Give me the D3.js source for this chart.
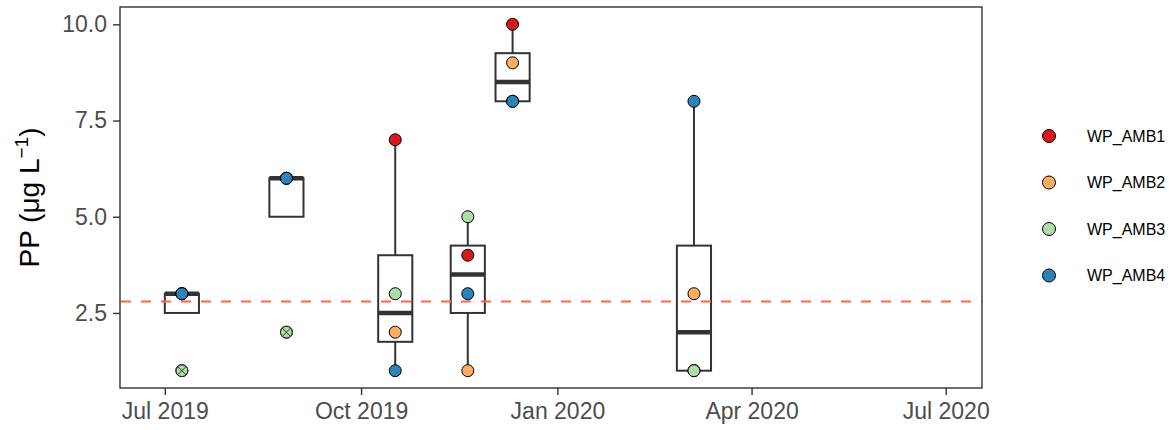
<!DOCTYPE html>
<html>
<head>
<meta charset="utf-8">
<script src="https://cdn.jsdelivr.net/npm/d3@7"></script>
<style>
  html, body { margin: 0; padding: 0; background: #fff; }
  svg { display: block; font-family: "Liberation Sans", Arial, sans-serif; }
</style>
</head>
<body>
<svg id="chart" width="1173" height="430"></svg>
<script>
// Sampling dates and PP concentrations per station
const sampleDates = ["2019-07-09", "2019-08-27", "2019-10-17", "2019-11-20", "2019-12-11", "2020-03-05"];
const stations = ["WP_AMB1", "WP_AMB2", "WP_AMB3", "WP_AMB4"];
const amb1 = [3, 6, 7, 4, 10, 1];
const amb2 = [3, 6, 2, 1, 9, 3];
const amb3 = [1, 2, 3, 5, 8, 1];
const amb4 = [3, 6, 1, 3, 8, 8];
const stationColors = ["#d7191c", "#fdae61", "#abdda4", "#2b83ba"];
const yTicks = [2.5, 5.0, 7.5, 10.0];
const xTickDates = ["2019-07-01", "2019-10-01", "2020-01-01", "2020-04-01", "2020-07-01"];
const thresholdValue = 2.8;

const parse = d3.utcParse("%Y-%m-%d");
const seriesValues = [amb1, amb2, amb3, amb4];

const svg = d3.select("#chart");
const panel = { left: 120, right: 982, top: 7, bottom: 388 };

const x = d3.scaleUtc()
  .domain([parse("2019-06-10"), parse("2020-07-18")])
  .range([panel.left, panel.right]);
const y = d3.scaleLinear()
  .domain([0.55, 10.45])
  .range([panel.bottom, panel.top]);

const color = d3.scaleOrdinal().domain(stations).range(stationColors);

// Box statistics (R type-7 quantiles, 1.5 * IQR whiskers)
const groups = sampleDates.map((ds, i) => {
  const vals = seriesValues.map(s => s[i]).sort(d3.ascending);
  const q1 = d3.quantile(vals, 0.25);
  const med = d3.quantile(vals, 0.5);
  const q3 = d3.quantile(vals, 0.75);
  const iqr = q3 - q1;
  const lo = q1 - 1.5 * iqr, hi = q3 + 1.5 * iqr;
  const inside = vals.filter(v => v >= lo && v <= hi);
  return {
    date: parse(ds), q1, med, q3,
    wLow: d3.min(inside), wHigh: d3.max(inside),
    outliers: vals.filter(v => v < lo || v > hi)
  };
});

const points = [];
stations.forEach((st, si) => {
  sampleDates.forEach((ds, i) => points.push({ station: st, date: parse(ds), value: seriesValues[si][i] }));
});

// Box half-width in days
const halfDays = 8;
const boxX0 = d => x(d3.utcDay.offset(d.date, -halfDays));
const boxX1 = d => x(d3.utcDay.offset(d.date, halfDays));

const dark = "#333333";

// Whiskers
const gBox = svg.append("g");
gBox.selectAll(".whU").data(groups).join("line")
  .attr("x1", d => x(d.date)).attr("x2", d => x(d.date))
  .attr("y1", d => y(d.q3)).attr("y2", d => y(Math.max(d.wHigh, d.q3)))
  .attr("stroke", dark).attr("stroke-width", 2);
gBox.selectAll(".whL").data(groups).join("line")
  .attr("x1", d => x(d.date)).attr("x2", d => x(d.date))
  .attr("y1", d => y(d.q1)).attr("y2", d => y(Math.min(d.wLow, d.q1)))
  .attr("stroke", dark).attr("stroke-width", 2);
// Boxes
gBox.selectAll("rect").data(groups).join("rect")
  .attr("x", boxX0).attr("width", d => boxX1(d) - boxX0(d))
  .attr("y", d => y(d.q3)).attr("height", d => y(d.q1) - y(d.q3))
  .attr("fill", "none").attr("stroke", dark).attr("stroke-width", 2);
// Medians
gBox.selectAll(".med").data(groups).join("line")
  .attr("x1", boxX0).attr("x2", boxX1)
  .attr("y1", d => y(d.med)).attr("y2", d => y(d.med))
  .attr("stroke", dark).attr("stroke-width", 4.5);

// Threshold line
svg.append("line")
  .attr("x1", panel.left).attr("x2", panel.right)
  .attr("y1", y(thresholdValue)).attr("y2", y(thresholdValue))
  .attr("stroke", "#ff6347").attr("stroke-width", 2)
  .attr("stroke-dasharray", "10,10").attr("stroke-dashoffset", -1);

// Station points
svg.append("g").selectAll("circle").data(points).join("circle")
  .attr("cx", d => x(d.date)).attr("cy", d => y(d.value)).attr("r", 6)
  .attr("fill", d => color(d.station)).attr("stroke", "#000").attr("stroke-width", 1);

// Outlier markers (circle with cross)
const outs = [];
groups.forEach(g => g.outliers.forEach(v => outs.push({ date: g.date, value: v })));
const gOut = svg.append("g").selectAll("g").data(outs).join("g")
  .attr("transform", d => `translate(${x(d.date)},${y(d.value)})`);
gOut.append("circle").attr("r", 6).attr("fill", "none").attr("stroke", dark).attr("stroke-width", 1);
const k = 6 * Math.SQRT1_2;
gOut.append("line").attr("x1", -k).attr("y1", -k).attr("x2", k).attr("y2", k).attr("stroke", dark).attr("stroke-width", 1);
gOut.append("line").attr("x1", -k).attr("y1", k).attr("x2", k).attr("y2", -k).attr("stroke", dark).attr("stroke-width", 1);

// Panel border
svg.append("rect")
  .attr("x", panel.left).attr("y", panel.top)
  .attr("width", panel.right - panel.left).attr("height", panel.bottom - panel.top)
  .attr("fill", "none").attr("stroke", dark).attr("stroke-width", 1.4);

// Axes
const yAxis = d3.axisLeft(y).tickValues(yTicks).tickFormat(d3.format(".1f")).tickSize(7).tickPadding(6);
const gy = svg.append("g").attr("transform", `translate(${panel.left},0)`).call(yAxis);
const xAxis = d3.axisBottom(x).tickValues(xTickDates.map(parse)).tickFormat(d3.utcFormat("%b %Y")).tickSize(7).tickPadding(6);
const gx = svg.append("g").attr("transform", `translate(0,${panel.bottom})`).call(xAxis);
[gx, gy].forEach(g => {
  g.select(".domain").remove();
  g.selectAll(".tick line").attr("stroke", dark).attr("stroke-width", 1.4);
  g.selectAll(".tick text").attr("fill", "#4d4d4d").attr("font-size", 23)
    .attr("font-family", "Liberation Sans, Arial, sans-serif");
});
gx.selectAll(".tick text").attr("dy", "0.78em");

// Y axis title
const yt = svg.append("text")
  .attr("transform", `translate(39,${(panel.top + panel.bottom) / 2}) rotate(-90)`)
  .attr("text-anchor", "middle").attr("font-size", 28).attr("fill", "#000");
yt.append("tspan").text("PP (μg L");
yt.append("tspan").attr("font-size", 19).attr("dy", -11).text("−1");
yt.append("tspan").attr("dy", 11).text(")");

// Legend
const legend = svg.append("g").selectAll("g").data(stations).join("g")
  .attr("transform", (d, i) => `translate(1049,${136 + i * 46.5})`);
legend.append("circle").attr("r", 6.5).attr("fill", d => color(d)).attr("stroke", "#000").attr("stroke-width", 1);
legend.append("text").attr("x", 38).attr("dy", "0.35em").attr("font-size", 16).attr("fill", "#000").text(d => d);
</script>
</body>
</html>
